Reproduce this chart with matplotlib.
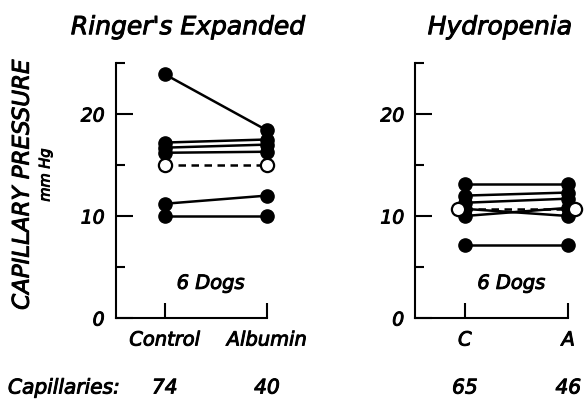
import numpy as np
import matplotlib
matplotlib.use("Agg")
import matplotlib.pyplot as plt
import matplotlib.patheffects as pe
from matplotlib.ticker import MultipleLocator


# values (mm Hg), one entry per dog
ringer_control = [23.9, 17.2, 16.7, 16.2, 11.2, 10.0]
ringer_albumin = [18.4, 17.5, 17.0, 16.3, 12.0, 10.0]
ringer_mean = [15.0, 15.0]

hydro_control = [13.1, 12.0, 11.3, 10.7, 10.0, 7.2]
hydro_albumin = [13.1, 12.3, 11.7, 10.0, 10.8, 7.2]
hydro_mean = [10.7, 10.7]

ringer_labels = ["Control", "Albumin"]
hydro_labels = ["C", "A"]
ringer_caps = ["74", "40"]
hydro_caps = ["65", "46"]

# slightly heavier than book weight, like the hand lettering
TXT = dict(style="italic",
           path_effects=[pe.withStroke(linewidth=0.7, foreground="black")])


def draw_panel(ax, control, albumin, mean, labels, caps, mean_dx):
    x = np.array([0, 1])
    for c, a in zip(control, albumin):
        ax.plot(x, [c, a], color="black", lw=1.8, marker="o", ms=9.5,
                mfc="black", mec="black", clip_on=False, zorder=3)
    ax.plot(x, mean, color="black", lw=1.8, ls=(0, (3, 2.2)), zorder=2)
    ax.plot(x + np.array([-mean_dx, mean_dx]), mean, ls="none", marker="o", ms=9.5,
            mfc="white", mec="black", mew=1.6, clip_on=False, zorder=4)

    ax.set_xlim(-0.48, 1.0)
    ax.set_ylim(0, 25)
    for s in ["top", "right"]:
        ax.spines[s].set_visible(False)
    ax.spines["left"].set_linewidth(1.5)
    ax.spines["bottom"].set_linewidth(1.5)

    ax.set_xticks(x)
    ax.set_xticklabels(labels, fontsize=14, **TXT)
    ax.tick_params(axis="x", direction="in", length=11, width=1.5, pad=9)

    ax.yaxis.set_minor_locator(MultipleLocator(5))
    ax.set_yticks([0, 10, 20])
    ax.set_yticklabels(["0", "10", "20"], fontsize=13.5, **TXT)
    ax.tick_params(axis="y", which="major", direction="in", length=12, width=1.5, pad=8)
    ax.tick_params(axis="y", which="minor", direction="in", length=6.5, width=1.5)

    ax.text(0.45, 3.4, "6 Dogs", fontsize=14, ha="center", va="center", **TXT)
    for xi, n in zip(x, caps):
        ax.annotate(n, xy=(xi, 0.03), xycoords=("data", "figure fraction"),
                    fontsize=14.5, ha="center", va="center", **TXT)


fig = plt.figure(figsize=(5.84, 4.0), dpi=100)
ax1 = fig.add_axes([0.198, 0.205, 0.259, 0.6375])
ax2 = fig.add_axes([0.711, 0.205, 0.262, 0.6375])

draw_panel(ax1, ringer_control, ringer_albumin, ringer_mean, ringer_labels, ringer_caps, 0.0)
draw_panel(ax2, hydro_control, hydro_albumin, hydro_mean, hydro_labels, hydro_caps, 0.07)

fig.text(0.322, 0.932, "Ringer's Expanded", fontsize=18, ha="center", va="center", **TXT)
fig.text(0.856, 0.932, "Hydropenia", fontsize=18, ha="center", va="center", **TXT)
fig.text(0.038, 0.5375, "CAPILLARY PRESSURE", fontsize=16.5,
         rotation=90, ha="center", va="center", **TXT)
fig.text(0.077, 0.5625, "mm Hg", fontsize=10.5,
         rotation=90, ha="center", va="center", **TXT)
fig.text(0.0137, 0.03, "Capillaries:", fontsize=14.5, ha="left", va="center", **TXT)

fig.savefig("out.png", dpi=100)
